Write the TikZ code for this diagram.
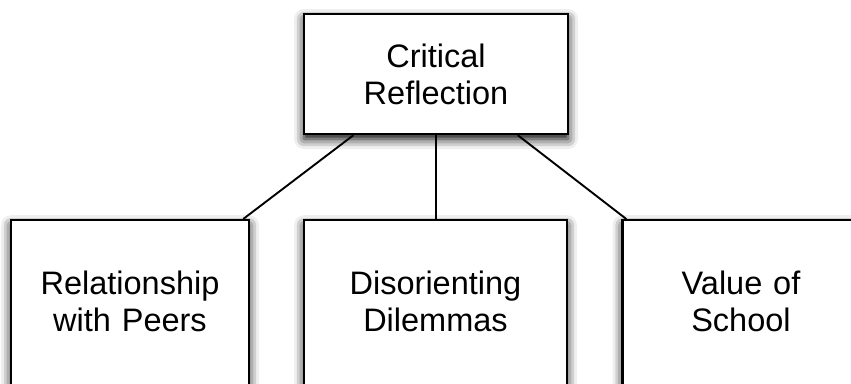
\documentclass[tikz,border=0pt]{standalone}
\usepackage{fontspec}
\setmainfont{Liberation Sans}
\usetikzlibrary{calc,shadows.blur}
\begin{document}
\begin{tikzpicture}[x=1pt,y=-1pt,
  box/.style={draw=black, line width=2.4pt, fill=white, rectangle, inner xsep=0pt,
    blur shadow={shadow xshift=0pt, shadow yshift=-5pt, shadow blur radius=10pt, shadow opacity=100},
    font=\fontsize{32.5}{37}\selectfont, align=center},
  topbox/.style={box, minimum width=264pt, minimum height=120pt, inner ysep=0pt, text width=264pt},
  lowbox/.style={box, anchor=north, inner ysep=51pt, text depth=200pt},
  link/.style={line width=1.9pt, draw=black}]
\useasboundingbox (0,0) rectangle (851,383);
\clip (0,0) rectangle (851,383);
% concept boxes
\node[topbox] (crit) at (436,74) {Critical\\Reflection};
\node[lowbox, text width=238pt] (rel) at (130,219) {Relationship\\with Peers};
\node[lowbox, text width=263pt] (dis) at (435.5,219) {Disorienting\\Dilemmas};
\node[lowbox, text width=237pt] (val) at (741,219) {Value of\\School};
% connectors
\draw[link] ($(crit.south west)!0.19!(crit.south east)$) -- ($(rel.north east)+(-7,0)$);
\draw[link] (crit.south) -- (crit.south |- dis.north);
\draw[link] ($(crit.south west)!0.807!(crit.south east)$) -- ($(val.north west)+(5,0)$);
\end{tikzpicture}
\end{document}
